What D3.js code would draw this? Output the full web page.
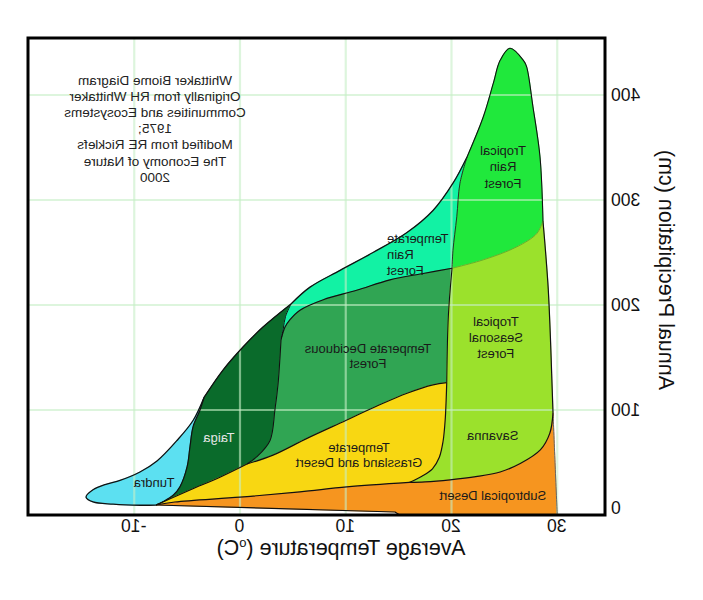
<!DOCTYPE html>
<html>
<head>
<meta charset="utf-8">
<script src="https://cdn.jsdelivr.net/npm/d3@7"></script>
<style>
  body { margin: 0; background: #fff; }
  svg text { font-family: "Liberation Sans", Arial, Helvetica, sans-serif; }
</style>
</head>
<body>
<svg id="chart" width="703" height="600"></svg>
<script>
// axis ticks
const tempTicks = [-10, 0, 10, 20, 30];      // deg C
const precipTicks = [0, 100, 200, 300, 400]; // cm

// biome boundaries, each point is [temperature, precipitation]
const outTundra = [[-7.94, 9.5], [-9.46, 9.3], [-12, 10.3], [-13.9, 12.4], [-14.56, 17], [-13.9, 24],
  [-12.6, 29.5], [-11.35, 33], [-9.46, 41], [-7.85, 51.5], [-5.96, 71], [-4.44, 90], [-3.4, 112]];
const outTaiga = [[-3.4, 112], [-1.61, 138], [0.28, 160], [2.17, 179], [4.82, 201]];
const outTempRain = [[4.82, 201], [6.62, 217], [9.46, 233], [12.58, 250], [15.79, 269], [18.25, 290],
  [20.14, 316], [21.47, 341]];
const outTropRain = [[21.47, 341], [23.0, 379], [23.95, 411], [24.6, 433], [25.53, 444.5], [26.8, 433],
  [27.1, 427], [27.7, 389], [28.37, 341], [28.65, 280]];
const edgeUpper = [[28.65, 280], [28.9, 250], [29.15, 215], [29.35, 170], [29.47, 135], [29.6, 97]];
const edgeLower = [[29.6, 97], [29.79, 50], [30.0, 0]];
const bottomEdge = [[30.0, 0], [15.1, 0], [14.66, 2.9], [-7.94, 9.5]];
const tundraTaiga = [[-3.4, 112], [-3.78, 100], [-4.44, 84], [-4.73, 65], [-5.0, 46], [-5.67, 27],
  [-6.3, 19], [-7.2, 13], [-7.94, 9.5]];
const taigaGrass = [[-7.94, 9.5], [-4.73, 23.8], [-1.9, 36], [0.66, 48.6]];
const taigaDecid = [[0.66, 48.6], [1.6, 55.5], [2.84, 71], [3.3, 100], [3.6, 125], [3.78, 150], [3.88, 167]];
const taigaTempRain = [[3.88, 167], [4.1, 178], [4.3, 189], [4.82, 201]];
const decidTop = [[3.88, 167], [4.26, 179], [4.73, 186], [5.67, 195], [7.88, 205], [11.03, 214],
  [14.18, 224], [17.33, 230], [20.05, 235]];
const tropRainLeft = [[21.47, 341], [20.8, 316], [20.5, 284], [20.14, 252], [20.05, 235]];
const tropRainBottom = [[20.05, 235], [23.0, 243], [26.2, 255.5], [28.06, 268], [28.65, 280]];
const seasonalUpper = [[20.05, 235], [19.7, 189], [19.55, 126]];
const seasonalLower = [[19.55, 126], [19.4, 90], [19.2, 70], [18.85, 55], [18.2, 44], [17.2, 37], [16.0, 31]];
const grassTop = [[0.66, 48.6], [3.12, 57], [6.34, 73], [10, 90], [13, 104], [15.8, 116], [18.25, 124], [19.55, 126]];
const grassDesert = [[-7.94, 9.5], [-6.15, 12.4], [0, 17], [5.67, 22], [10.1, 26.7], [16.0, 31]];
const savannaDesert = [[16.0, 31], [17.5, 31.5], [19.86, 33.5], [22.3, 36.5], [24.6, 41], [26.5, 49],
  [28.4, 62], [29.3, 78], [29.6, 97]];

// biome names and label anchors [temperature, precipitation of first line]
const labelLines = [["Tropical", "Rain", "Forest"], ["Temperate", "Rain", "Forest"],
  ["Temperate Deciduous", "Forest"], ["Tropical", "Seasonal", "Forest"], ["Savanna"],
  ["Subtropical Desert"], ["Temperate", "Grassland and Desert"], ["Taiga"], ["Tundra"]];
const labelAnchors = [[24.87, 342.9], [13.9, 259], [12.1, 154.3], [24.2, 180], [23.9, 71.4],
  [23.9, 14.3], [11.25, 60], [-2.0, 69.5], [-8.13, 26.7]];

const noteLines = ["Whittaker Biome Diagram", "Originally from RH Whittaker", "Communities and Ecosystems",
  "1975;", "Modified from RE Ricklefs", "The Economy of Nature", "2000"];

const W = 703, H = 600;
const frame = {left: 98, right: 675, top: 38, bottom: 515};
const FONT = '"Liberation Sans", Arial, Helvetica, sans-serif';

let svg = d3.select("#chart");
svg.append("rect").attr("width", W).attr("height", H).attr("fill", "#fff");

// the whole picture is a mirror image
let g = svg.append("g")
  .attr("transform", "translate(" + W + ",0) scale(-1,1)")
  .attr("font-family", FONT);

let xScale = d3.scaleLinear().domain([-10, 30]).range([568.75, 145.75]);
let yScale = d3.scaleLinear().domain([0, 400]).range([515, 95]);

let smooth = d3.line()
  .x(d => xScale(d[0])).y(d => yScale(d[1]))
  .curve(d3.curveCatmullRom.alpha(0.5));
let straight = d3.line()
  .x(d => xScale(d[0])).y(d => yScale(d[1]));

function segPath(pts, rev) {
  let p = rev ? pts.slice().reverse() : pts;
  return (pts === bottomEdge ? straight : smooth)(p);
}
function regionPath(parts) {
  return parts.map((p, i) => {
    let s = segPath(p[0], p[1]);
    return i === 0 ? s : "L" + s.slice(1);
  }).join("") + "Z";
}

let biomes = [
  {color: "#5ce0f1", parts: [[outTundra], [tundraTaiga]]},
  {color: "#0a6b2b", parts: [[tundraTaiga, 1], [outTaiga], [taigaTempRain, 1], [taigaDecid, 1], [taigaGrass, 1]]},
  {color: "#12f2a4", parts: [[outTempRain], [tropRainLeft], [decidTop, 1], [taigaTempRain]]},
  {color: "#20e83c", parts: [[outTropRain], [tropRainBottom, 1], [tropRainLeft, 1]]},
  {color: "#30a553", parts: [[taigaDecid], [decidTop], [seasonalUpper], [grassTop, 1]]},
  {color: "#9be12c", parts: [[tropRainBottom], [edgeUpper], [savannaDesert, 1], [seasonalLower, 1], [seasonalUpper, 1]]},
  {color: "#f8d712", parts: [[taigaGrass], [grassTop], [seasonalLower], [grassDesert, 1]]},
  {color: "#f6951f", parts: [[grassDesert], [savannaDesert], [edgeLower], [bottomEdge]]}
];

g.selectAll(".biome")
  .data(biomes)
  .enter()
  .append("path")
    .classed("biome", true)
    .attr("d", d => regionPath(d.parts))
    .attr("fill", d => d.color)
    .attr("stroke", d => d.color)
    .attr("stroke-width", 0.8);

// grid over the biomes
g.selectAll(".vgrid")
  .data(tempTicks)
  .enter()
  .append("line")
    .attr("x1", d => xScale(d)).attr("x2", d => xScale(d))
    .attr("y1", frame.top).attr("y2", frame.bottom)
    .attr("stroke", "#c6efc6").attr("stroke-opacity", 0.6).attr("stroke-width", 2.2);
g.selectAll(".hgrid")
  .data(precipTicks.filter(d => d > 0))
  .enter()
  .append("line")
    .attr("x1", frame.left).attr("x2", frame.right)
    .attr("y1", d => yScale(d)).attr("y2", d => yScale(d))
    .attr("stroke", "#c6efc6").attr("stroke-opacity", 0.6).attr("stroke-width", 2.2);

// boundary lines
let borders = [
  [outTundra, "#111", 1.3], [outTaiga, "#111", 1.3], [outTempRain, "#111", 1.3], [outTropRain, "#111", 1.1],
  [edgeUpper, "#111", 1.2], [edgeLower, "#666", 1], [bottomEdge, "#111", 1.1], [tundraTaiga, "#111", 1.2],
  [taigaGrass, "#111", 1.2], [taigaDecid, "#111", 1.1], [taigaTempRain, "#111", 1], [decidTop, "#111", 1.2],
  [tropRainLeft, "#222", 0.9], [tropRainBottom, "#3a7a2a", 0.5], [seasonalUpper, "#111", 1.1],
  [seasonalLower, "#111", 1.2], [grassTop, "#111", 1.2], [grassDesert, "#111", 1.2], [savannaDesert, "#111", 1.2]
];
g.selectAll(".border")
  .data(borders)
  .enter()
  .append("path")
    .classed("border", true)
    .attr("d", d => segPath(d[0]))
    .attr("fill", "none")
    .attr("stroke", d => d[1])
    .attr("stroke-width", d => d[2])
    .attr("stroke-linejoin", "round");

// frame
g.append("rect")
  .attr("x", frame.left).attr("y", frame.top)
  .attr("width", frame.right - frame.left).attr("height", frame.bottom - frame.top)
  .attr("fill", "none").attr("stroke", "#000").attr("stroke-width", 3);

// axes
let xAxis = d3.axisBottom(xScale).tickValues(tempTicks).tickSize(0).tickPadding(5).tickFormat(d => String(d));
let gx = g.append("g").attr("transform", "translate(0," + frame.bottom + ")").call(xAxis);
gx.attr("font-family", FONT);
gx.select(".domain").remove();
gx.selectAll("text").style("font-size", "17.5px").attr("fill", "#111");

let yAxis = d3.axisLeft(yScale).tickValues(precipTicks).tickSize(0).tickPadding(6).tickFormat(d => String(d));
let gy = g.append("g").attr("transform", "translate(" + frame.left + ",0)").call(yAxis);
gy.attr("font-family", FONT);
gy.select(".domain").remove();
gy.selectAll("text").style("font-size", "17.5px").attr("fill", "#111")
  .filter(d => d === 0).attr("y", -7);

let xt = g.append("text")
  .attr("x", 362).attr("y", 555)
  .attr("text-anchor", "middle")
  .style("font-size", "21.5px").attr("fill", "#111");
xt.append("tspan").text("Average Temperature (");
xt.append("tspan").attr("dy", -8).style("font-size", "13px").text("o");
xt.append("tspan").attr("dy", 8).text("C)");

g.append("text")
  .attr("transform", "translate(44," + 270 + ") rotate(-90)")
  .attr("text-anchor", "middle")
  .style("font-size", "21.5px").attr("fill", "#111")
  .text("Annual Precipitation (cm)");

// note in the top corner
g.append("g").selectAll("text")
  .data(noteLines)
  .enter()
  .append("text")
    .attr("x", 548).attr("y", (d, i) => 85 + i * 16.1)
    .attr("text-anchor", "middle")
    .style("font-size", "13.5px").attr("fill", "#222")
    .text(d => d);

// biome labels
let labelAlign = ["middle", "end", "middle", "middle", "middle", "middle", "middle", "middle", "middle"];
let labelGap = [16.5, 16, 15, 16, 16, 16, 15, 16, 16];
let labels = g.selectAll(".blabel")
  .data(labelLines)
  .enter()
  .append("text")
    .classed("blabel", true)
    .attr("text-anchor", (d, i) => labelAlign[i])
    .attr("fill", (d, i) => i === 7 ? "#e6e6e6" : "#1a1a1a")
    .style("font-size", "13px");
labels.each(function(lines, i) {
  let t = d3.select(this);
  let ax = xScale(labelAnchors[i][0]), ay = yScale(labelAnchors[i][1]);
  lines.forEach((s, k) => {
    t.append("tspan").attr("x", ax).attr("y", ay + k * labelGap[i]).text(s);
  });
});
</script>
</body>
</html>
